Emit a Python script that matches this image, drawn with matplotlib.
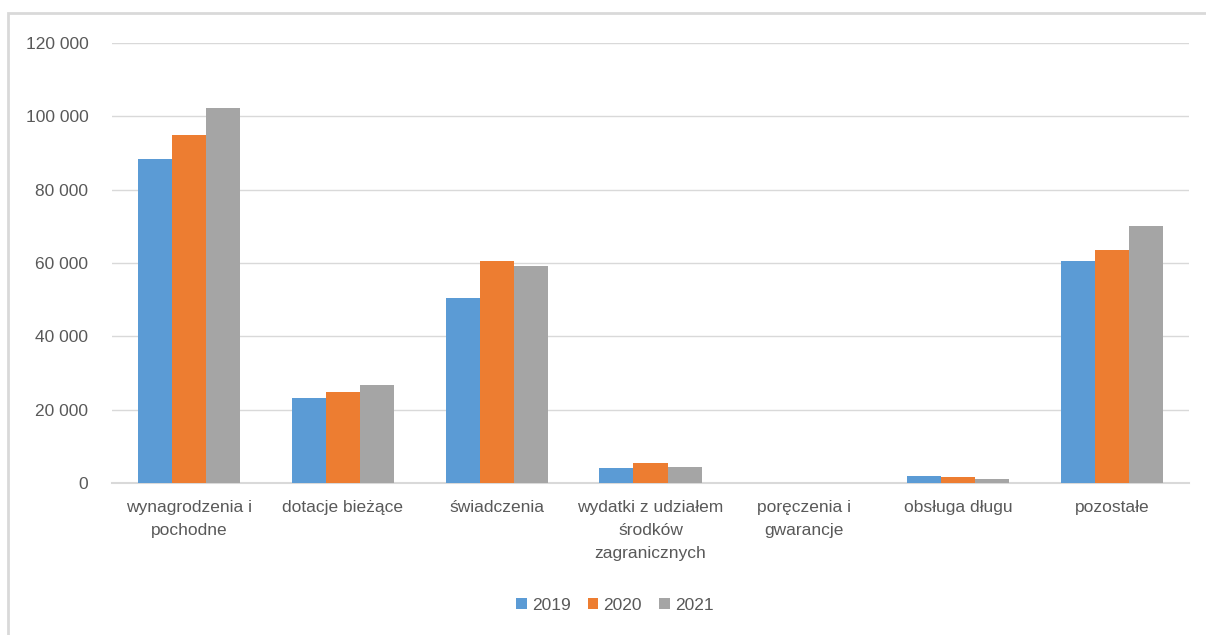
import matplotlib.pyplot as plt
from matplotlib.patches import Rectangle
from matplotlib.ticker import FuncFormatter
import numpy as np

plt.rcParams['font.family'] = ['Liberation Sans', 'DejaVu Sans']

categories = ["wynagrodzenia i\npochodne", "dotacje bieżące", "świadczenia",
              "wydatki z udziałem\nśrodków\nzagranicznych", "poręczenia i\ngwarancje",
              "obsługa długu", "pozostałe"]
years = ["2019", "2020", "2021"]
v2019 = [88400, 23200, 50500, 4000, 0, 1900, 60500]
v2020 = [94900, 24800, 60500, 5400, 0, 1550, 63500]
v2021 = [102300, 26700, 59200, 4300, 0, 1200, 70100]
colors = ["#5B9BD5", "#ED7D31", "#A5A5A5"]

TEXT = "#595959"

fig = plt.figure(figsize=(12.06, 6.35), dpi=100)
ax = fig.add_axes([112 / 1206, 1 - 483 / 635, 1077 / 1206, 440 / 635])

# chart area border (clipped at right and bottom like the screenshot)
fig.patches.append(Rectangle((8 / 1206, -0.1), 1.2, 1 - 13 / 635 + 0.1,
                             transform=fig.transFigure, fill=False,
                             edgecolor="#D9D9D9", linewidth=2))

x = np.arange(len(categories))
w = 0.221
for i, (vals, yr) in enumerate(zip([v2019, v2020, v2021], years)):
    ax.bar(x + (i - 1) * w, vals, w, color=colors[i], label=yr, zorder=3)

ax.set_xlim(-0.5, len(categories) - 0.5)
ax.set_ylim(0, 120000)
ax.set_yticks(range(0, 120001, 20000))
ax.yaxis.set_major_formatter(FuncFormatter(lambda v, p: f"{int(v):,}".replace(",", " ")))
ax.set_xticks(x)
ax.set_xticklabels(categories, linespacing=1.7)
ax.tick_params(axis="both", length=0, colors=TEXT, labelsize=12.5)
ax.tick_params(axis="x", pad=12)
ax.tick_params(axis="y", pad=17)
ax.grid(axis="y", color="#D9D9D9", linewidth=1, zorder=0)
for s in ["top", "right", "left"]:
    ax.spines[s].set_visible(False)
ax.spines["bottom"].set_color("#D9D9D9")
ax.spines["bottom"].set_linewidth(1.5)

leg = fig.legend(loc="center", bbox_to_anchor=(615 / 1206, 1 - 605 / 635), ncol=3,
                 frameon=False, fontsize=12.5, handlelength=0.6, handleheight=0.6,
                 handletextpad=0.3, columnspacing=1.0)
for t in leg.get_texts():
    t.set_color(TEXT)

fig.savefig("out.png", dpi=100)
